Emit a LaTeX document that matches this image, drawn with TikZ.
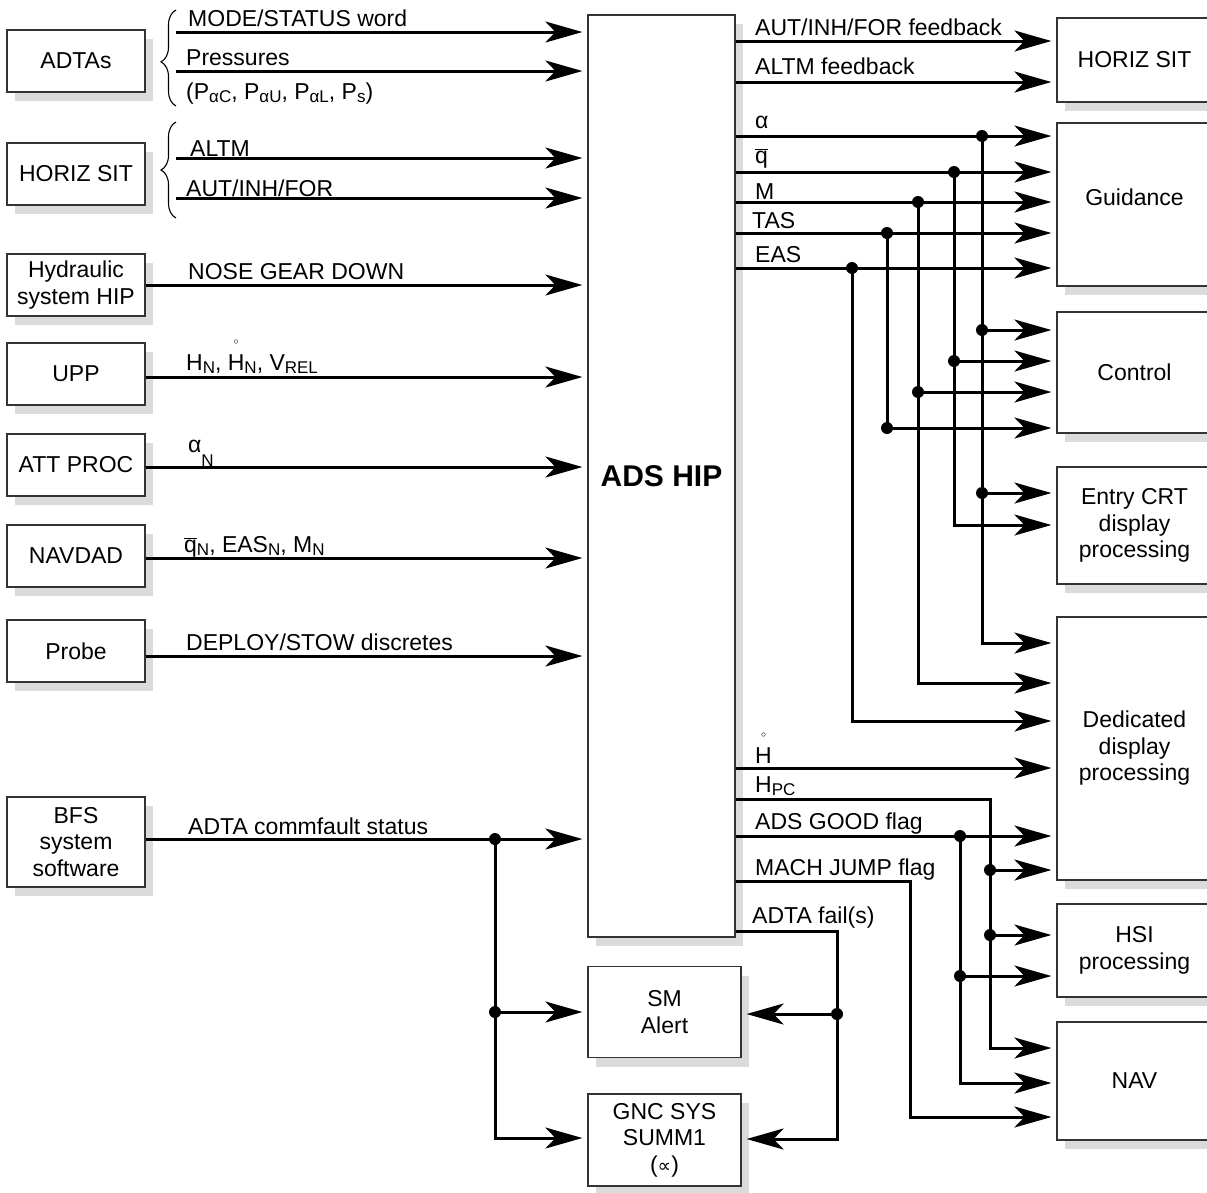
\documentclass[tikz,border=0pt]{standalone}
\usepackage{fontspec}
\setmainfont{Liberation Sans}
\newfontfamily\symfam{DejaVu Sans}
\usetikzlibrary{arrows.meta, positioning, shadows, decorations.pathreplacing}

\newcommand{\lo}[1]{\raisebox{-0.3ex}{\fontsize{17}{17}\selectfont #1}}
\newcommand{\qbar}{$\overline{\hbox{q}}$}
\newcommand{\hring}{\ooalign{H\cr\hidewidth\raisebox{26pt}{\fontsize{10}{10}\selectfont$\circ$}\hidewidth\cr}}

\begin{document}
\begin{tikzpicture}[
    x=1pt, y=-1pt,
    font=\fontsize{23}{26.5}\selectfont,
    box/.style={rectangle, draw=black!80, line width=1.2pt, fill=white,
                align=center, inner sep=2pt,
                drop shadow={shadow xshift=8pt, shadow yshift=-9pt,
                             fill=black!14, opacity=1}},
    src/.style={box, minimum width=138pt, minimum height=62pt},
    dst/.style={box, minimum width=155pt},
    arr/.style={-{Stealth[length=37pt, width=21pt, inset=10pt]},
                line width=3pt, shorten >=5pt},
    wire/.style={line width=3pt},
    lbl/.style={anchor=base west, inner sep=0pt},
    jdot/.style={circle, fill=black, inner sep=0pt, minimum size=12pt},
    brc/.style={decorate, decoration={brace, amplitude=15pt, aspect=#1},
                line width=1.1pt},
]
\useasboundingbox (0,0) rectangle (1207,1192);
\clip (0,0) rectangle (1207,1192);

% sources
\node[src] (adtas)  at (76,61)  {ADTAs};
\node[src] (hsitl)  at (76,174) {HORIZ SIT};
\node[src] (hyd)    at (76,285) {Hydraulic\\system HIP};
\node[src] (upp)    at (76,374) {UPP};
\node[src] (att)    at (76,465) {ATT PROC};
\node[src] (navdad) at (76,556) {NAVDAD};
\node[src] (probe)  at (76,651) {Probe};
\node[src, minimum height=90pt] (bfs) at (76,842) {BFS\\system\\software};

% central box
\node[box, minimum width=147pt, minimum height=922pt,
      font=\fontsize{30}{34}\selectfont\bfseries] (hip) at (661.5,476) {ADS HIP};
\node[box, minimum width=153pt, minimum height=91pt] (sm)  at (664.5,1012) {SM\\Alert};
\node[box, minimum width=153pt, minimum height=92pt] (gnc) at (664.5,1140) {GNC SYS\\SUMM1\\({\symfam\fontsize{19}{19}\selectfont ∝})};

% users
\node[dst, minimum height=84pt]  (hsitr) at (1134.5,60)    {HORIZ SIT};
\node[dst, minimum height=163pt, text depth=14pt] (guid) at (1134.5,204.5) {Guidance};
\node[dst, minimum height=121pt] (ctrl)  at (1134.5,372.5) {Control};
\node[dst, minimum height=117pt] (entry) at (1134.5,525.5) {Entry CRT\\display\\processing};
\node[dst, minimum height=263pt] (ded)   at (1134.5,748.5) {Dedicated\\display\\processing};
\node[dst, minimum height=93pt]  (hsi)   at (1134.5,950.5) {HSI\\processing};
\node[dst, minimum height=118pt] (nav)   at (1134.5,1081)  {NAV};

% inputs
\coordinate (adbr) at (176,0);
\coordinate (hsbr) at (176,0);
\draw[brc=0.46] (176,106) -- (176,10);
\draw[brc=0.5]  (176,218) -- (176,122);

\draw[arr] (adbr |- 0,32) -- (hip.west |- 0,32);
\node[lbl] (lmode) at (188,26) {MODE/STATUS word};
\draw[arr] (adbr |- 0,71) -- (hip.west |- 0,71);
\node[lbl] (lpres) at (186,65) {Pressures};
\node[lbl] (lpsub) at (186,99) {(P\lo{αC}, P\lo{αU}, P\lo{αL}, P\lo{s})};
\draw[arr] (hsbr |- 0,158) -- (hip.west |- 0,158);
\node[lbl] (laltm) at (190,156) {ALTM};
\draw[arr] (hsbr |- 0,198) -- (hip.west |- 0,198);
\node[lbl] (laut) at (186,196) {AUT/INH/FOR};

\draw[arr] (hyd) -- (hip.west |- hyd);
\node[lbl] at (188,279) {NOSE GEAR DOWN};
\draw[arr] (upp.east |- 0,377) -- (hip.west |- 0,377);
\node[lbl] at (186,370) {H\lo{N}, \hring\lo{N}, V\lo{REL}};
\draw[arr] (att.east |- 0,467) -- (hip.west |- 0,467);
\node[lbl] at (188,452) {α\raisebox{-14pt}{\fontsize{17}{17}\selectfont N}};
\draw[arr] (navdad.east |- 0,558) -- (hip.west |- 0,558);
\node[lbl] at (184,552) {\qbar\lo{N}, EAS\lo{N}, M\lo{N}};
\draw[arr] (probe.east |- 0,656) -- (hip.west |- 0,656);
\node[lbl] at (186,650) {DEPLOY/STOW discretes};

% commfault status
\node[jdot] (dbfs) at (495,839) {};
\node[jdot] (dsm)  at (495,1012) {};
\draw[arr] (bfs.east |- dbfs) -- (hip.west |- dbfs);
\node[lbl] at (188,834) {ADTA commfault status};
\draw[wire] (dbfs.center) -- (dsm.center);
\draw[arr] (dsm.center) -- (sm.west |- dsm);
\draw[arr] (dsm.center) |- (gnc.west |- 0,1138);

% ADTA fail(s)
\node[jdot] (dfail) at (837,1014) {};
\draw[wire] (hip.east |- 0,931) -| (dfail.center);
\node[lbl] at (752,923) {ADTA fail(s)};
\draw[arr] (dfail.center) -- (sm.east |- dfail);
\draw[arr] (dfail.center) |- (gnc.east |- 0,1139);

% feedback to HORIZ SIT
\draw[arr] (hip.east |- 0,41) -- (hsitr.west |- 0,41);
\node[lbl] at (755,35) {AUT/INH/FOR feedback};
\draw[arr] (hip.east |- 0,82) -- (hsitr.west |- 0,82);
\node[lbl] at (755,74) {ALTM feedback};

% air data parameters
\node[jdot] (dal)  at (982,136) {};
\node[jdot] (dq)   at (954,172) {};
\node[jdot] (dm)   at (918,202) {};
\node[jdot] (dtas) at (887,233) {};
\node[jdot] (deas) at (852,268) {};
\draw[arr] (hip.east |- dal)  -- (guid.west |- dal);
\draw[arr] (hip.east |- dq)   -- (guid.west |- dq);
\draw[arr] (hip.east |- dm)   -- (guid.west |- dm);
\draw[arr] (hip.east |- dtas) -- (guid.west |- dtas);
\draw[arr] (hip.east |- deas) -- (guid.west |- deas);
\node[lbl] at (755,128) {α};
\node[lbl] at (755,163) {\qbar};
\node[lbl] at (755,199) {M};
\node[lbl] at (752,228) {TAS};
\node[lbl] at (755,262) {EAS};

\node[jdot] (dalc) at (982,330) {};
\node[jdot] (dqc)  at (954,361) {};
\node[jdot] (dmc)  at (918,392) {};
\node[jdot] (dtc)  at (887,428) {};
\node[jdot] (dale) at (982,493) {};
\draw[arr] (dal.center)  |- (ded.west |- 0,643);
\draw[arr] (dq.center)   |- (entry.west |- 0,525);
\draw[arr] (dm.center)   |- (ded.west |- 0,683);
\draw[wire] (dtas.center) -- (dtc.center);
\draw[arr] (deas.center) |- (ded.west |- 0,721);
\draw[arr] (dalc.center) -- (ctrl.west |- dalc);
\draw[arr] (dqc.center)  -- (ctrl.west |- dqc);
\draw[arr] (dmc.center)  -- (ctrl.west |- dmc);
\draw[arr] (dtc.center)  -- (ctrl.west |- dtc);
\draw[arr] (dale.center) -- (entry.west |- dale);

% lower outputs
\draw[arr] (hip.east |- 0,768) -- (ded.west |- 0,768);
\node[lbl] at (755,763) {\hring};
\node[jdot] (dpc)  at (990,870) {};
\node[jdot] (dpch) at (990,935) {};
\draw[wire] (hip.east |- 0,799) -| (dpc.center);
\node[lbl] at (755,792) {H\lo{PC}};
\draw[arr] (dpc.center) -- (ded.west |- dpc);
\draw[arr] (dpch.center) -- (hsi.west |- dpch);
\draw[arr] (dpc.center) |- (nav.west |- 0,1048);
\node[jdot] (dgd)  at (960,836) {};
\node[jdot] (dgdh) at (960,976) {};
\draw[arr] (hip.east |- dgd) -- (ded.west |- dgd);
\node[lbl] at (755,829) {ADS GOOD flag};
\draw[arr] (dgdh.center) -- (hsi.west |- dgdh);
\draw[arr] (dgd.center) |- (nav.west |- 0,1083);
\coordinate (mj) at (910,881);
\draw[arr] (hip.east |- mj) -| (mj) |- (nav.west |- 0,1117);
\node[lbl] at (755,875) {MACH JUMP flag};
\end{tikzpicture}
\end{document}
